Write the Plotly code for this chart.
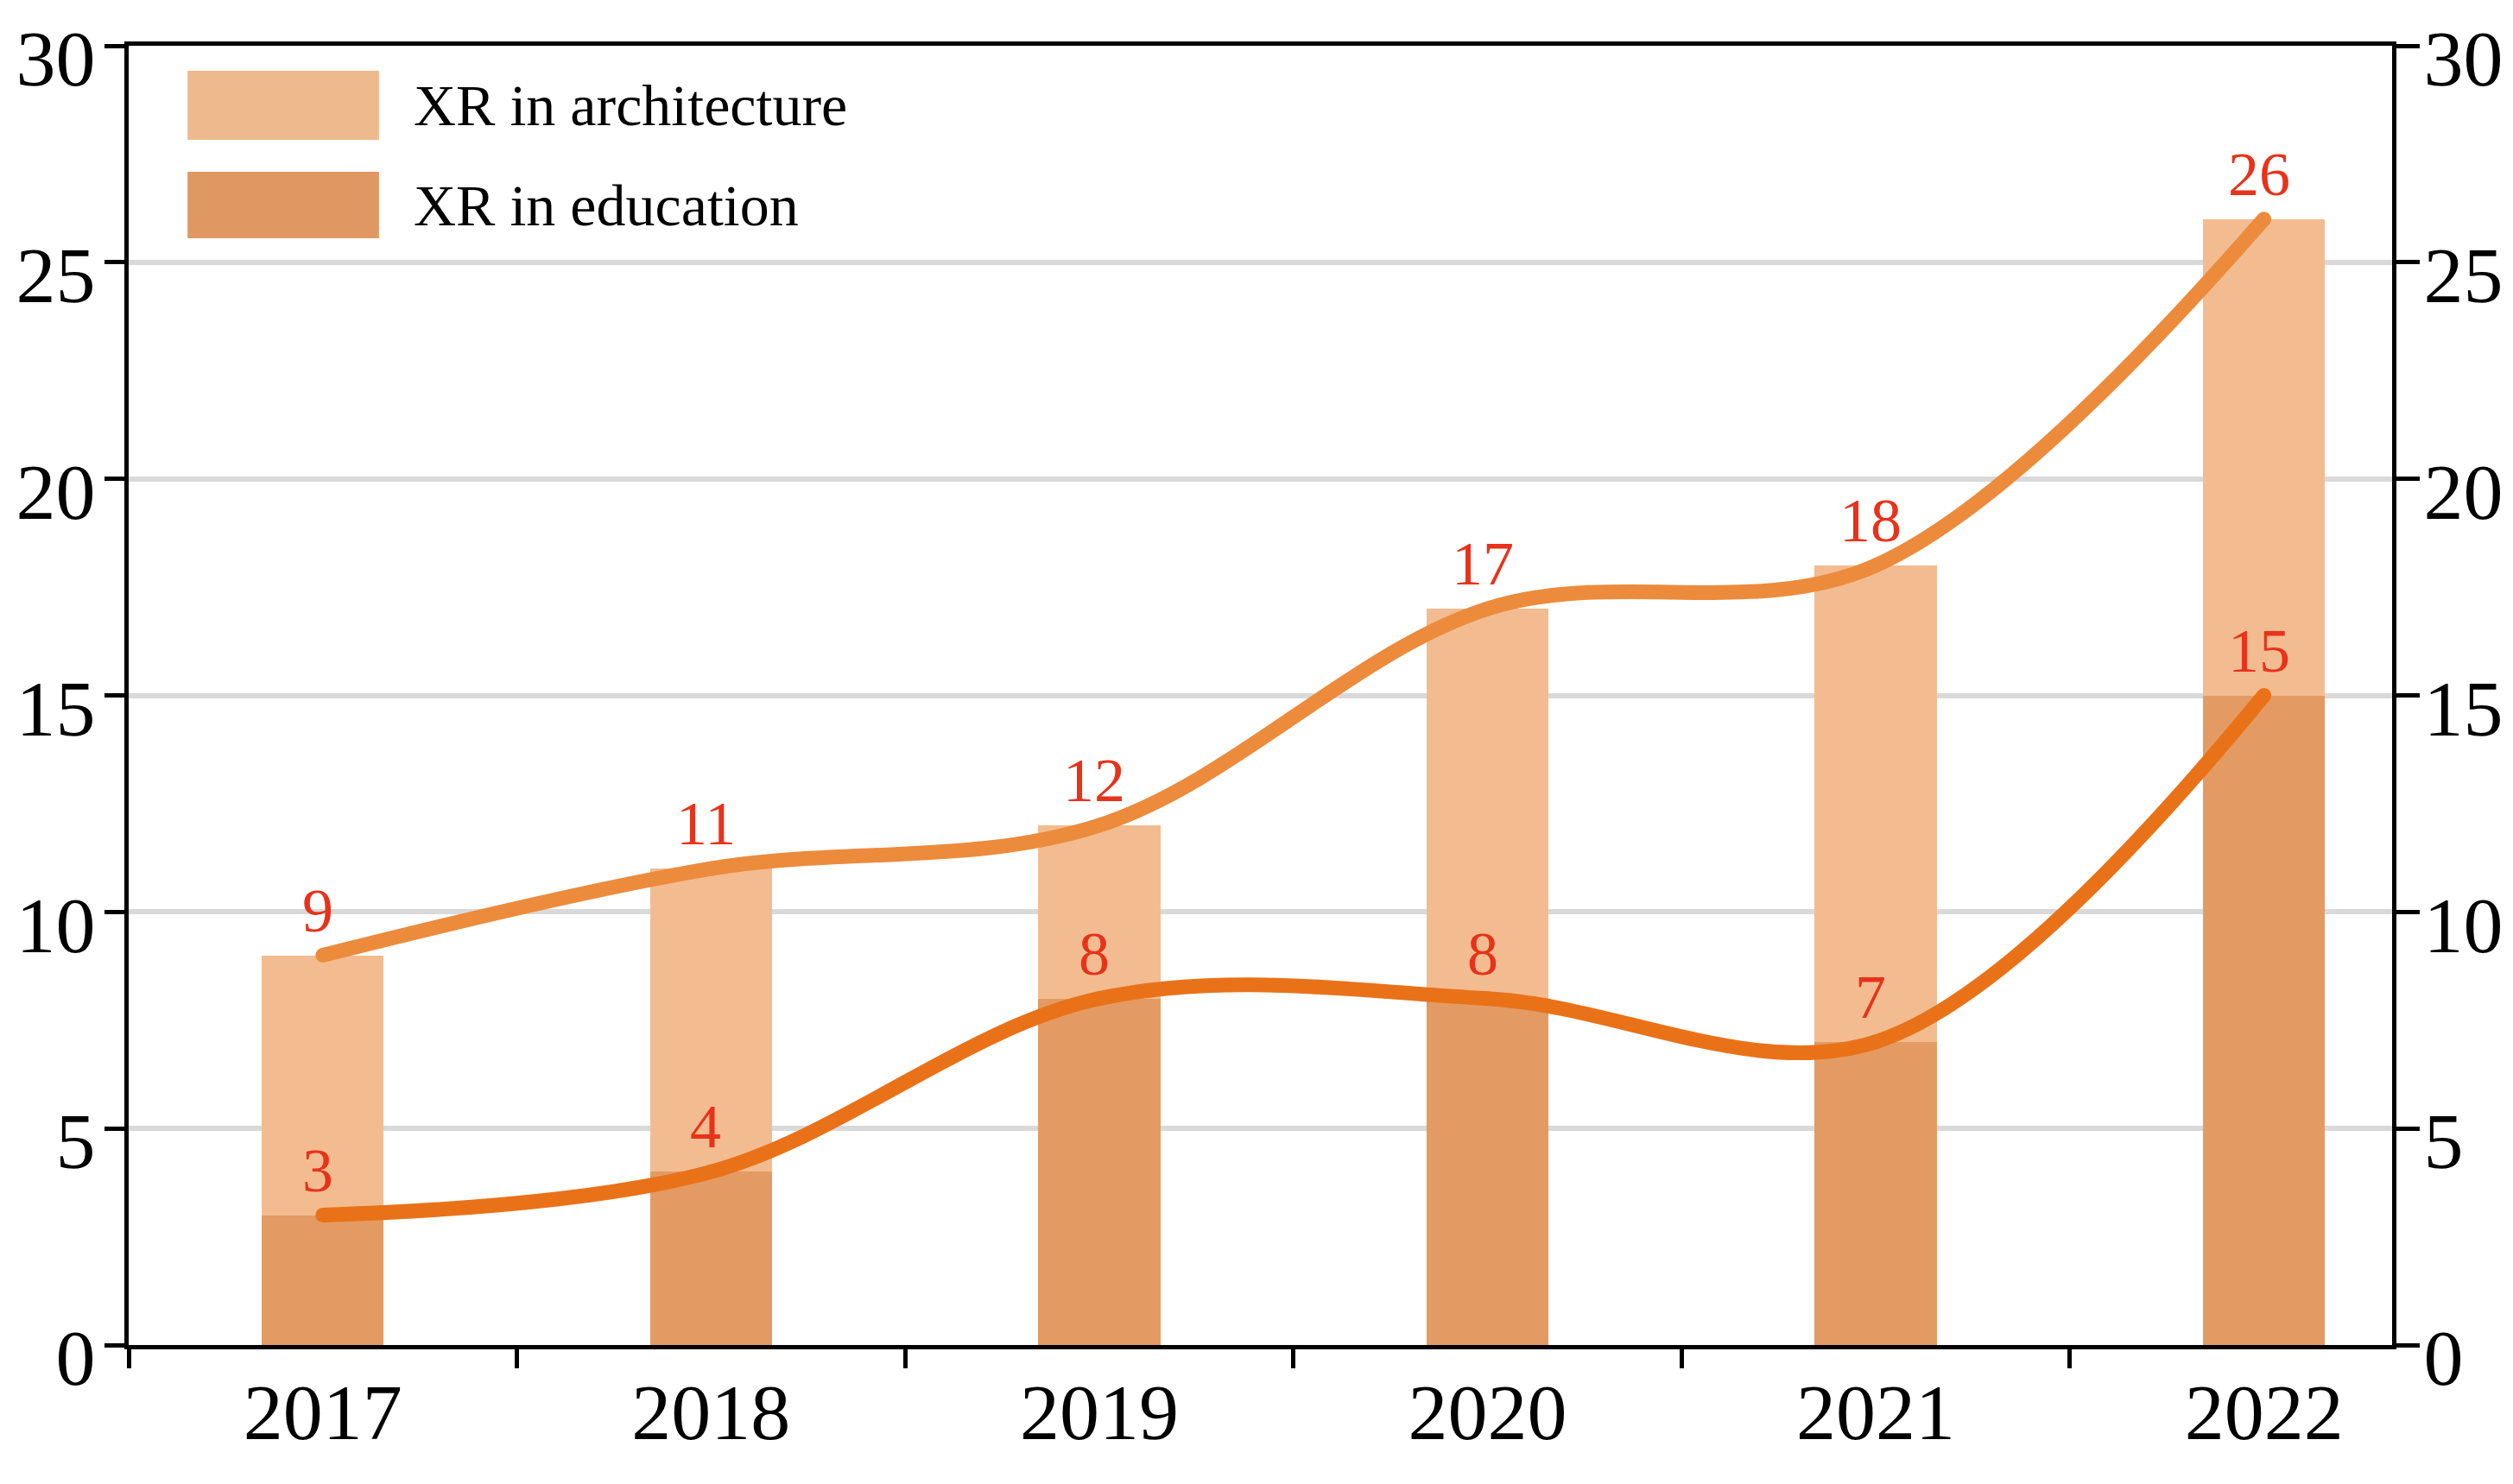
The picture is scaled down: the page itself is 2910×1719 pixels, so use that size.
import plotly.graph_objects as go

years = ["2017", "2018", "2019", "2020", "2021", "2022"]
architecture = [9, 11, 12, 17, 18, 26]
education = [3, 4, 8, 8, 7, 15]
y_ticks = [0, 5, 10, 15, 20, 25, 30]
series_names = ["XR in architecture", "XR in education"]

FONT = "Liberation Serif"
C_ARCH_BAR = "#F3BC90"
C_EDU_BAR = "#E39B63"
C_ARCH_LINE = "#EC8B3C"
C_EDU_LINE = "#E97219"
C_LABEL = "#E8321A"
C_LEG_ARCH = "#EEB98D"
C_LEG_EDU = "#E09862"
LW = 17

fig = go.Figure()
fig.add_trace(go.Bar(x=years, y=architecture, marker=dict(color=C_ARCH_BAR, line=dict(width=0)),
                     width=0.314, name=series_names[0], showlegend=False))
fig.add_trace(go.Bar(x=years, y=education, marker=dict(color=C_EDU_BAR, line=dict(width=0)),
                     width=0.314, name=series_names[1], showlegend=False))
fig.add_trace(go.Scatter(x=years, y=architecture, mode="lines+markers",
                         line=dict(color=C_ARCH_LINE, width=LW, shape="spline", smoothing=1),
                         marker=dict(color=C_ARCH_LINE, size=LW, line=dict(width=0)),
                         showlegend=False))
fig.add_trace(go.Scatter(x=years, y=education, mode="lines+markers",
                         line=dict(color=C_EDU_LINE, width=LW, shape="spline", smoothing=1),
                         marker=dict(color=C_EDU_LINE, size=LW, line=dict(width=0)),
                         showlegend=False))
# invisible trace to activate right axis
fig.add_trace(go.Scatter(x=years, y=architecture, yaxis="y2", mode="lines",
                         line=dict(width=0), opacity=0, showlegend=False, hoverinfo="skip"))

annotations = []
for series in (architecture, education):
    for i, v in enumerate(series):
        annotations.append(dict(x=i, y=v, text=str(v), showarrow=False, xref="x", yref="y",
                                yanchor="bottom", yshift=10, xshift=-6,
                                font=dict(family=FONT, size=72, color=C_LABEL)))

# manual legend (paper coordinates)
shapes = []
leg_rows = [(0.9807, 0.9276, C_LEG_ARCH, series_names[0]), (0.903, 0.8518, C_LEG_EDU, series_names[1])]
for y1, y0, col, name in leg_rows:
    shapes.append(dict(type="rect", xref="paper", yref="paper", x0=0.026, x1=0.1106, y0=y0, y1=y1,
                       fillcolor=col, line=dict(width=0), layer="above"))
    annotations.append(dict(x=0.125, y=(y0 + y1) / 2, xref="paper", yref="paper", text=name,
                            showarrow=False, xanchor="left", yanchor="middle",
                            font=dict(family=FONT, size=68, color="black")))

axis_common = dict(showline=True, linecolor="black", linewidth=5, ticks="outside",
                   tickwidth=5, tickcolor="black", automargin=False, ticklabeloverflow="allow",
                   tickfont=dict(family=FONT, size=92, color="black"))

fig.update_layout(
    width=2910, height=1719,
    margin=dict(l=149, r=140, t=53, b=161),
    paper_bgcolor="white", plot_bgcolor="white",
    barmode="overlay",
    bargap=0,
    xaxis=dict(type="category", range=[-0.5, 5.33], tickson="boundaries", showgrid=False,
               mirror=True, ticklen=22, ticklabelstandoff=-6, **axis_common),
    yaxis=dict(range=[0, 30], tickvals=y_ticks, showgrid=True, gridcolor="#D9D9D9", gridwidth=6,
               zeroline=False, ticklen=23, ticklabelshift=14, ticklabelstandoff=-8, **axis_common),
    yaxis2=dict(range=[0, 30], tickvals=y_ticks, overlaying="y", side="right", showgrid=False,
                zeroline=False, ticklen=27, ticklabelshift=14, ticklabelstandoff=-14, **axis_common),
    annotations=annotations,
    shapes=shapes,
    showlegend=False,
)

fig.write_html("out.html", config={"displayModeBar": False},
               post_script="document.body.style.margin='0';document.body.style.overflow='hidden';")
